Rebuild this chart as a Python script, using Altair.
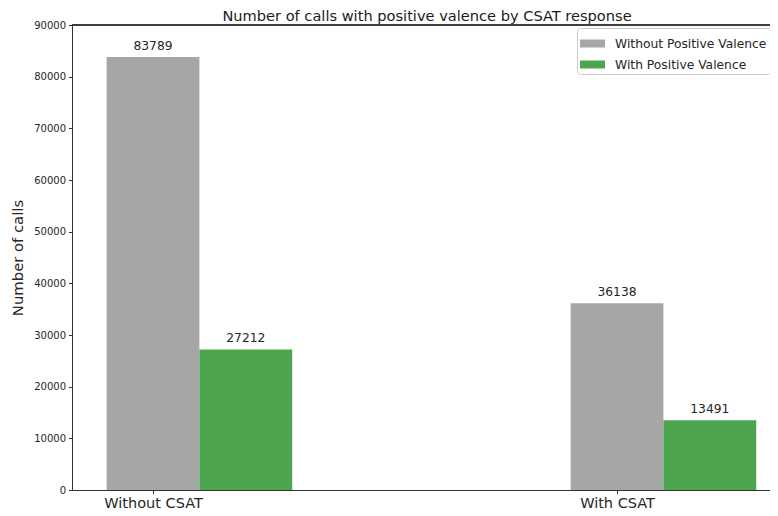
import altair as alt
import pandas as pd

categories = ["Without CSAT", "With CSAT"]
series = ["Without Positive Valence", "With Positive Valence"]
without_pv = [83789, 36138]
with_pv = [27212, 13491]
colors = ["#a6a6a6", "#4da64d"]
y_ticks = list(range(0, 90001, 10000))

rows = []
for gi, cat in enumerate(categories):
    for si, (name, vals) in enumerate(zip(series, [without_pv, with_pv])):
        rows.append({"cat": cat, "gi": gi, "series": name, "si": si, "value": vals[gi]})
df = pd.DataFrame(rows)

FONT = "DejaVu Sans"
W, H = 698, 465
bar_w = 0.2

label_expr = " : ".join(
    f"datum.value == {i} ? '{c}'" for i, c in enumerate(categories[:-1])
) + f" : '{categories[-1]}'"

xscale = alt.Scale(domain=[-0.1746, 1.3297], nice=False, zero=False)
yscale = alt.Scale(domain=[0, 90000], nice=False)

base = alt.Chart(df).transform_calculate(
    x0=f"datum.gi + datum.si * {bar_w} - {bar_w / 2}",
    x1=f"datum.gi + datum.si * {bar_w} + {bar_w / 2}",
    xc=f"datum.gi + datum.si * {bar_w}",
)

bars = base.mark_bar().encode(
    x=alt.X("x0:Q", scale=xscale,
            axis=alt.Axis(values=list(range(len(categories))), labelExpr=label_expr,
                          title=None, grid=False, labelFontSize=14.5, labelPadding=3,
                          tickSize=3.5, labelFlush=False, labelOverlap=False,
                          domainColor="#333333", tickColor="#333333", labelColor="#262626",
                          labelFont=FONT)),
    x2="x1:Q",
    y=alt.Y("value:Q", scale=yscale, stack=None,
            axis=alt.Axis(values=y_ticks, format="d", title="Number of calls",
                          grid=False, labelFontSize=10, labelPadding=3, tickSize=3.5,
                          titleFontSize=14.8, titleFontWeight="normal", titlePadding=8,
                          titleColor="#262626", labelColor="#262626",
                          domainColor="#333333", tickColor="#333333",
                          labelFont=FONT, titleFont=FONT)),
    y2=alt.datum(0),
    color=alt.Color("series:N", scale=alt.Scale(domain=series, range=colors),
                    sort=series,
                    legend=alt.Legend(title=None, orient="none", legendX=505, legendY=3,
                                      symbolType="M-1,-0.32H1V0.32H-1Z", symbolSize=625,
                                      symbolStrokeWidth=0, symbolOpacity=1,
                                      labelFontSize=12.3, labelFont=FONT, labelColor="#262626",
                                      labelOffset=10, rowPadding=2, padding=3,
                                      strokeColor="#cccccc", cornerRadius=3,
                                      fillColor="white")),
)

labels = base.mark_text(baseline="alphabetic", dy=-7, fontSize=12.3, font=FONT,
                        color="#262626").encode(
    x=alt.X("xc:Q", scale=xscale),
    y=alt.Y("value:Q", scale=yscale),
    text=alt.Text("value:Q", format="d"),
)

top_spine = alt.Chart(df).mark_rule(color="#333333", strokeWidth=1).encode(
    x=alt.value(0), x2=alt.value(W), y=alt.value(0)
)

chart = alt.layer(bars, labels, top_spine).properties(
    width=W, height=H,
    title=alt.TitleParams("Number of calls with positive valence by CSAT response",
                          fontSize=14.6, fontWeight="normal", font=FONT, color="#1a1a1a",
                          anchor="middle", dx=6, offset=5, dy=9),
    autosize=alt.AutoSizeParams(type="none"),
    padding={"left": 64, "top": 17, "right": 0, "bottom": 24},
).configure_view(stroke=None).configure(background="white")

chart.save("out.html", embed_options={"renderer": "svg", "actions": False})
